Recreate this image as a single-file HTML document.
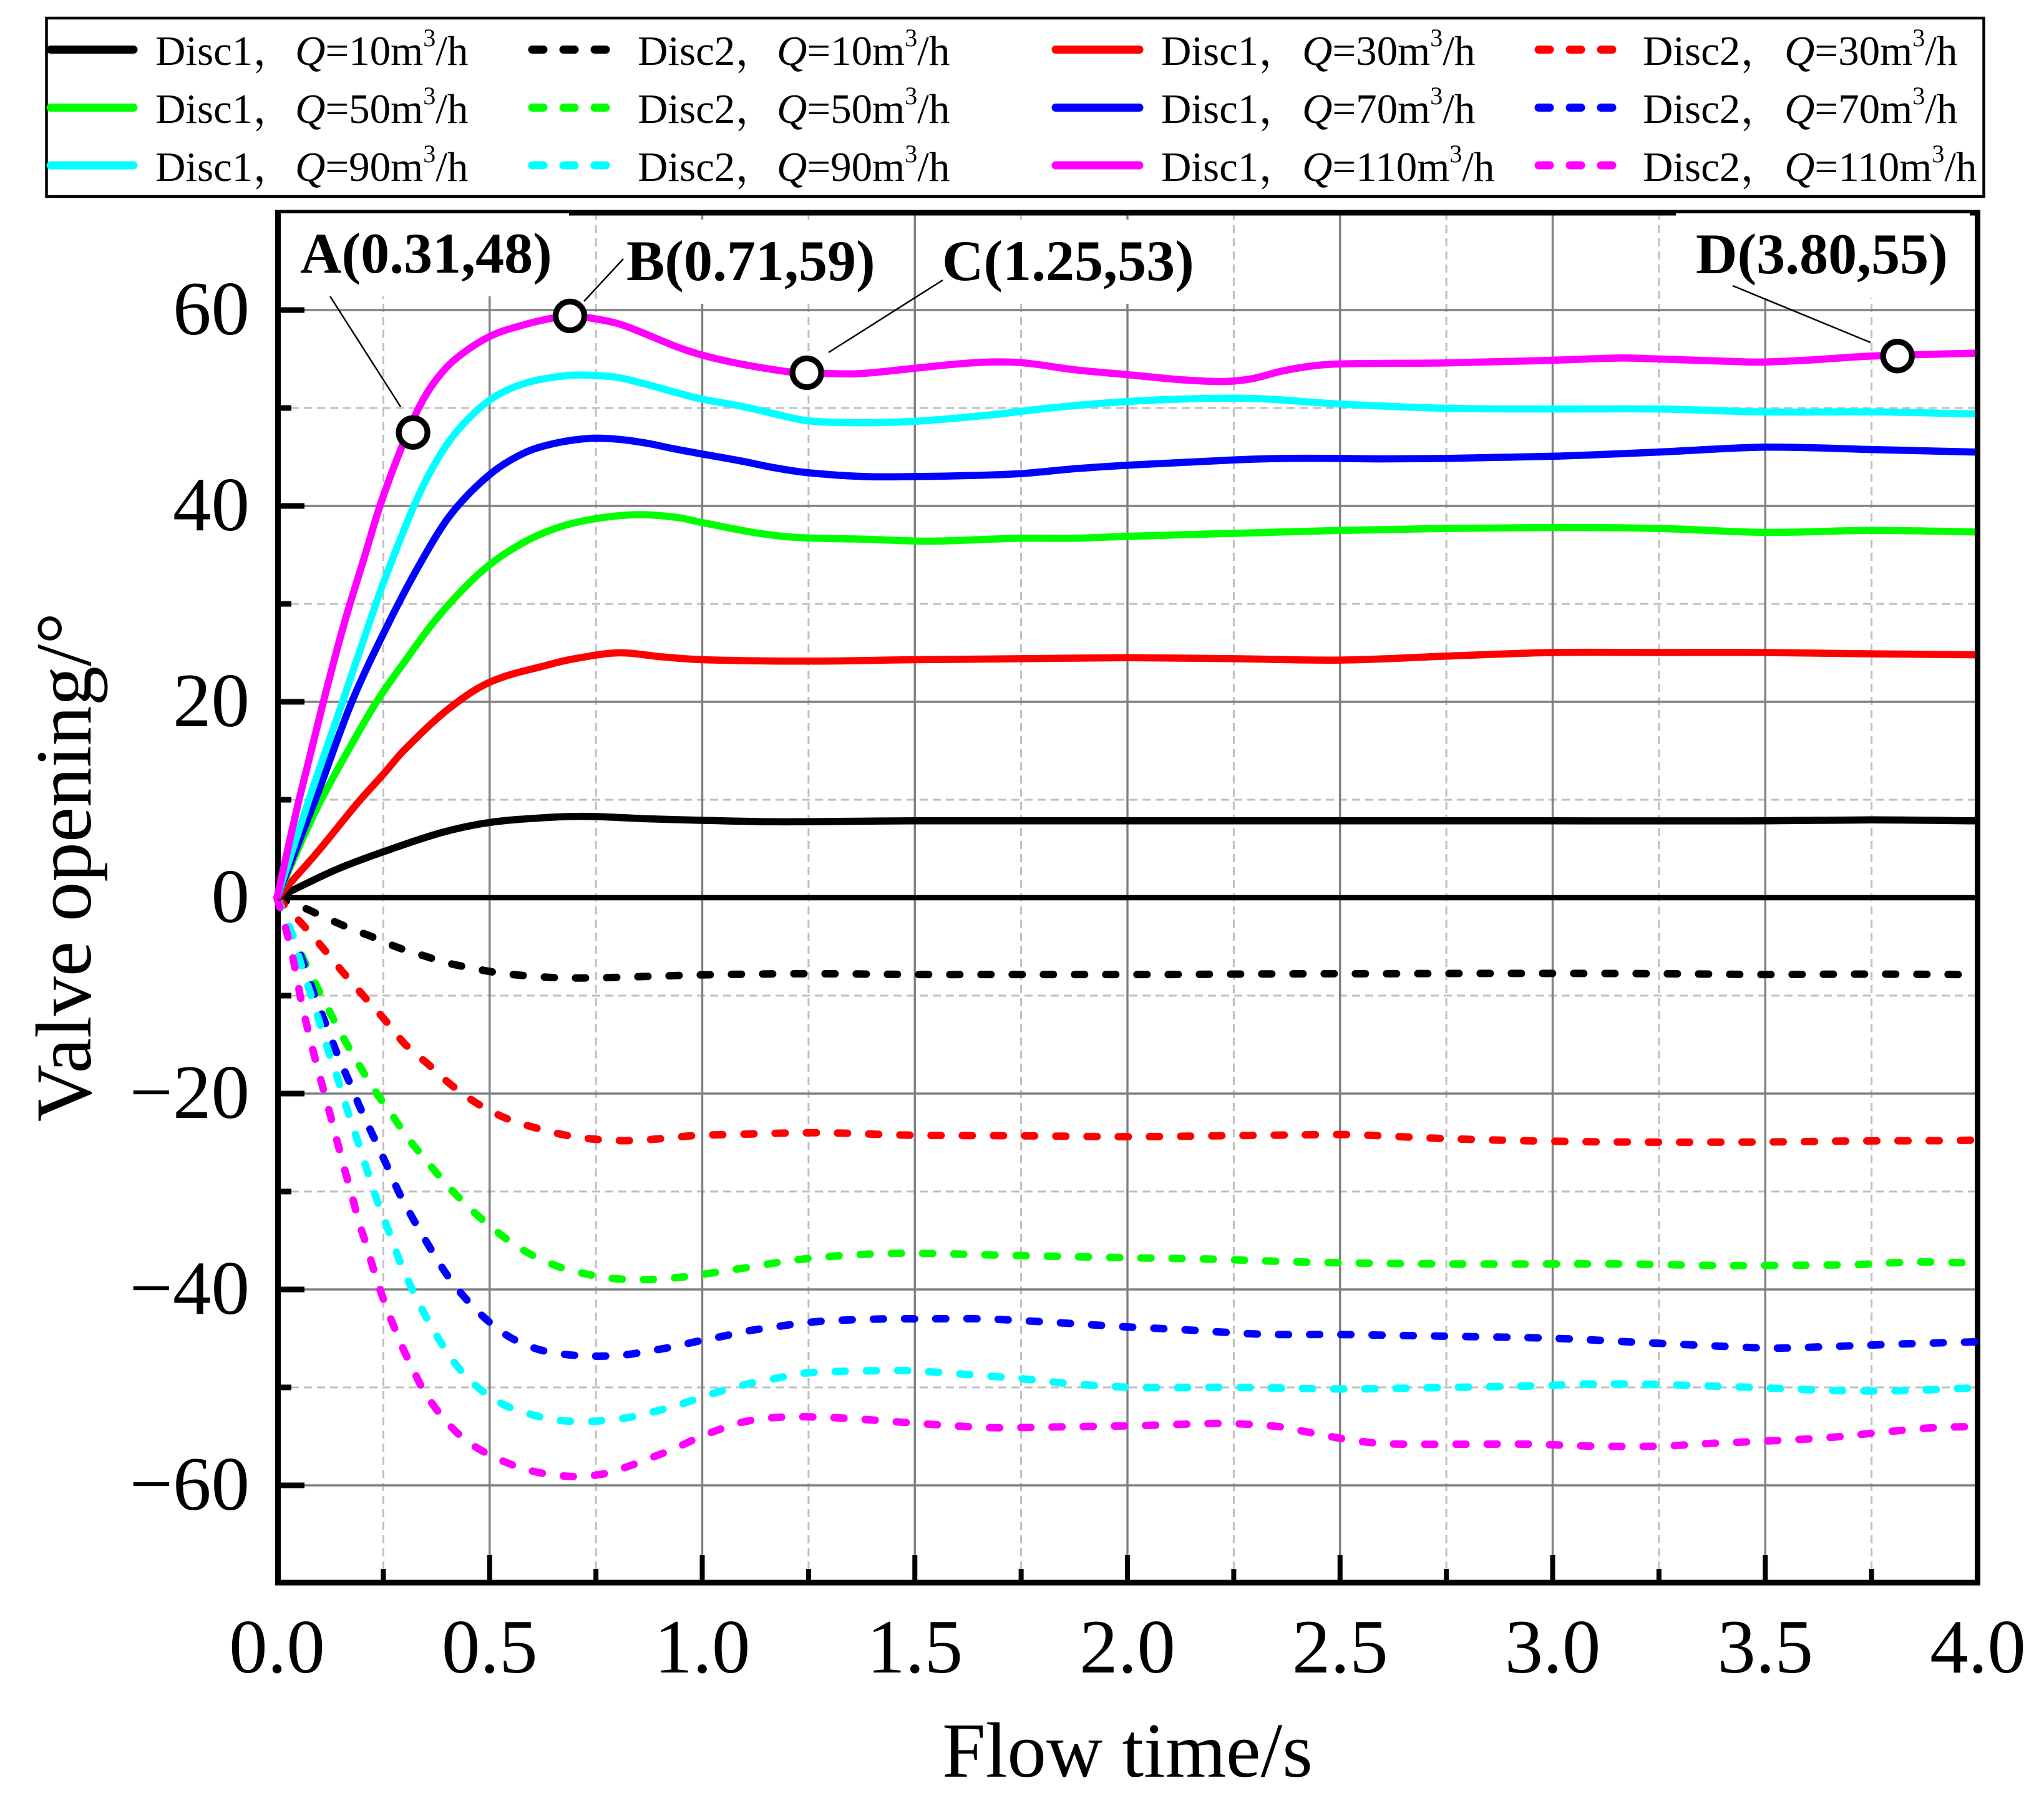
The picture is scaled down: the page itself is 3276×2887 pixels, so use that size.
<!DOCTYPE html>
<html lang="en">
<head>
<meta charset="utf-8">
<title>Valve opening vs flow time</title>
<style>
html,body{margin:0;padding:0;background:#fff;}
svg{display:block;font-family:"Liberation Serif","Noto Serif CJK SC",serif;}
.lg{font-size:67px;fill:#000;}
.q{font-style:italic;}
.sup{font-size:40px;}
.ann{font-size:92px;font-weight:bold;fill:#000;}
.tick{font-size:123px;fill:#000;}
.title{font-size:125px;fill:#000;}
</style>
</head>
<body>
<svg id="chart" xmlns="http://www.w3.org/2000/svg" width="3276" height="2887" viewBox="0 0 3276 2887">
<rect x="0" y="0" width="3276" height="2887" fill="#fff"/>
<g id="grid"></g>
<rect x="445.500" y="341" width="2724" height="2196" fill="none" stroke="#000" stroke-width="9"/>
<g id="ticks"></g>
<g fill="#fff">
<rect x="450" y="342" width="462" height="133"/>
<rect x="1004" y="352" width="398" height="135"/>
<rect x="1510" y="352" width="403" height="135"/>
<rect x="2686" y="342" width="471" height="136"/>
</g>
<g id="series"></g>
<g stroke="#000" stroke-width="2.5" fill="none">
<line x1="529" y1="475" x2="642" y2="652"/>
<line x1="999" y1="415" x2="936" y2="483"/>
<line x1="1511" y1="449" x2="1328" y2="565"/>
<line x1="2777" y1="458" x2="2998" y2="549"/>
</g>
<g id="markers"></g>
<g>
<text class="ann" x="481" y="437">A(0.31,48)</text>
<text class="ann" x="1004" y="449">B(0.71,59)</text>
<text class="ann" x="1510" y="449">C(1.25,53)</text>
<text class="ann" x="2718" y="438">D(3.80,55)</text>
</g>
<g id="ticklabels"></g>
<text class="title" x="1807" y="2848" text-anchor="middle">Flow time/s</text>
<text class="title" style="font-size:127px" transform="translate(145,1390) rotate(-90)" text-anchor="middle">Valve opening/°</text>

<g>
<rect x="74.500" y="29" width="3105" height="286" fill="#fff" stroke="#000" stroke-width="4.5"/>
<g stroke-width="13" stroke-linecap="round" fill="none">
<line x1="81" x2="214" y1="79.500" y2="79.500" stroke="#000"/>
<line x1="853" x2="971" y1="79.500" y2="79.500" stroke="#000" stroke-dasharray="18 32"/>
<line x1="1692" x2="1826" y1="79.500" y2="79.500" stroke="#f00"/>
<line x1="2466" x2="2586" y1="79.500" y2="79.500" stroke="#f00" stroke-dasharray="18 32"/>
<line x1="81" x2="214" y1="172.500" y2="172.500" stroke="#0f0"/>
<line x1="853" x2="971" y1="172.500" y2="172.500" stroke="#0f0" stroke-dasharray="18 32"/>
<line x1="1692" x2="1826" y1="172.500" y2="172.500" stroke="#00f"/>
<line x1="2466" x2="2586" y1="172.500" y2="172.500" stroke="#00f" stroke-dasharray="18 32"/>
<line x1="81" x2="214" y1="265" y2="265" stroke="#0ff"/>
<line x1="853" x2="971" y1="265" y2="265" stroke="#0ff" stroke-dasharray="18 32"/>
<line x1="1692" x2="1826" y1="265" y2="265" stroke="#f0f"/>
<line x1="2466" x2="2586" y1="265" y2="265" stroke="#f0f" stroke-dasharray="18 32"/>
</g>
<text class="lg" x="249" y="104">Disc1，<tspan class="q" x="473">Q</tspan>=10m<tspan class="sup" dy="-30">3</tspan><tspan dy="30">/h</tspan></text>
<text class="lg" x="1022" y="104">Disc2，<tspan class="q" x="1245">Q</tspan>=10m<tspan class="sup" dy="-30">3</tspan><tspan dy="30">/h</tspan></text>
<text class="lg" x="1861" y="104">Disc1，<tspan class="q" x="2087">Q</tspan>=30m<tspan class="sup" dy="-30">3</tspan><tspan dy="30">/h</tspan></text>
<text class="lg" x="2633" y="104">Disc2，<tspan class="q" x="2860">Q</tspan>=30m<tspan class="sup" dy="-30">3</tspan><tspan dy="30">/h</tspan></text>
<text class="lg" x="249" y="197">Disc1，<tspan class="q" x="473">Q</tspan>=50m<tspan class="sup" dy="-30">3</tspan><tspan dy="30">/h</tspan></text>
<text class="lg" x="1022" y="197">Disc2，<tspan class="q" x="1245">Q</tspan>=50m<tspan class="sup" dy="-30">3</tspan><tspan dy="30">/h</tspan></text>
<text class="lg" x="1861" y="197">Disc1，<tspan class="q" x="2087">Q</tspan>=70m<tspan class="sup" dy="-30">3</tspan><tspan dy="30">/h</tspan></text>
<text class="lg" x="2633" y="197">Disc2，<tspan class="q" x="2860">Q</tspan>=70m<tspan class="sup" dy="-30">3</tspan><tspan dy="30">/h</tspan></text>
<text class="lg" x="249" y="290">Disc1，<tspan class="q" x="473">Q</tspan>=90m<tspan class="sup" dy="-30">3</tspan><tspan dy="30">/h</tspan></text>
<text class="lg" x="1022" y="290">Disc2，<tspan class="q" x="1245">Q</tspan>=90m<tspan class="sup" dy="-30">3</tspan><tspan dy="30">/h</tspan></text>
<text class="lg" x="1861" y="290">Disc1，<tspan class="q" x="2087">Q</tspan>=110m<tspan class="sup" dy="-30">3</tspan><tspan dy="30">/h</tspan></text>
<text class="lg" x="2633" y="290">Disc2，<tspan class="q" x="2860">Q</tspan>=110m<tspan class="sup" dy="-30">3</tspan><tspan dy="30">/h</tspan></text>
</g>
</svg>
<script>
const xMajorTicks = [0.5, 1, 1.5, 2, 2.5, 3, 3.5];
const xMinorTicks = [0.25, 0.75, 1.25, 1.75, 2.25, 2.75, 3.25, 3.75];
const xTickLabels = ["0.0", "0.5", "1.0", "1.5", "2.0", "2.5", "3.0", "3.5", "4.0"];
const xTickLabelValues = [0, 0.5, 1, 1.5, 2, 2.5, 3, 3.5, 4];
const yMajorTicks = [60, 40, 20, -20, -40, -60];
const yMinorTicks = [50, 30, 10, -10, -30, -50];
const yTickLabels = ["60", "40", "20", "0", "−20", "−40", "−60"];
const yTickLabelValues = [60, 40, 20, 0, -20, -40, -60];

const markerTimes = [0.32, 0.689, 1.246, 3.811];
const markerValues = [47.5, 59.4, 53.6, 55.3];

const disc1Q10T = [0, 0.043, 0.1409, 0.2514, 0.3855, 0.5, 0.64, 0.735, 0.87, 1, 1.18, 1.5, 2, 2.5, 3, 3.5, 3.75, 3.993];
const disc1Q10V = [0, 0.9, 2.9, 4.71, 6.63, 7.68, 8.2, 8.3, 8.06, 7.9, 7.75, 7.85, 7.85, 7.85, 7.85, 7.85, 7.95, 7.85];
const disc1Q30T = [0, 0.092, 0.19, 0.2514, 0.2974, 0.3999, 0.5, 0.64, 0.7, 0.803, 0.904, 1, 1.25, 1.5, 1.75, 2, 2.25, 2.5, 2.75, 3, 3.25, 3.5, 3.75, 3.993];
const disc1Q30V = [0, 4.5, 9.7, 12.67, 15, 19.15, 22, 23.8, 24.4, 25, 24.6, 24.3, 24.15, 24.3, 24.4, 24.5, 24.4, 24.26, 24.66, 25.03, 25.03, 25.03, 24.9, 24.8];
const disc1Q50T = [0, 0.06, 0.104, 0.1604, 0.234, 0.3, 0.366, 0.4343, 0.5, 0.581, 0.6545, 0.735, 0.843, 0.937, 1, 1.12, 1.217, 1.385, 1.53, 1.75, 1.877, 2, 2.25, 2.5, 2.75, 3, 3.25, 3.5, 3.75, 3.993];
const disc1Q50V = [0, 6, 10, 14.5, 20, 24.1, 28, 31.36, 34, 36.3, 37.7, 38.6, 39.1, 38.85, 38.3, 37.3, 36.8, 36.6, 36.4, 36.7, 36.7, 36.9, 37.2, 37.5, 37.7, 37.8, 37.7, 37.3, 37.5, 37.35];
const disc1Q70T = [0, 0.0944, 0.176, 0.262, 0.3414, 0.41, 0.5, 0.581, 0.6545, 0.735, 0.803, 0.87, 0.937, 1, 1.09, 1.17, 1.247, 1.38, 1.503, 1.63, 1.75, 1.877, 2, 2.25, 2.37, 2.5, 2.6, 2.75, 3, 3.25, 3.5, 3.75, 3.993];
const disc1Q70V = [0, 10.5, 20, 28, 34.5, 39.2, 43.2, 45.4, 46.4, 46.9, 46.8, 46.4, 45.8, 45.3, 44.6, 43.9, 43.4, 43, 43, 43.1, 43.3, 43.8, 44.15, 44.7, 44.85, 44.85, 44.8, 44.85, 45.07, 45.5, 46, 45.76, 45.5];
const disc1Q90T = [0, 0.075, 0.154, 0.2167, 0.2514, 0.322, 0.371, 0.4246, 0.5, 0.581, 0.679, 0.735, 0.803, 0.87, 0.937, 1, 1.09, 1.17, 1.247, 1.365, 1.503, 1.68, 1.827, 2, 2.16, 2.31, 2.5, 2.75, 3, 3.25, 3.5, 3.75, 3.993];
const disc1Q90V = [0, 10, 20, 28, 32.3, 40, 44.3, 47.7, 50.8, 52.5, 53.3, 53.35, 53.1, 52.4, 51.6, 50.9, 50.2, 49.4, 48.7, 48.5, 48.65, 49.3, 50.04, 50.66, 50.95, 50.95, 50.4, 49.97, 49.9, 49.9, 49.6, 49.6, 49.4];
const disc1Q110T = [0, 0.0235, 0.0518, 0.109, 0.158, 0.205, 0.242, 0.2876, 0.332, 0.371, 0.4197, 0.5, 0.581, 0.65, 0.688, 0.735, 0.803, 0.87, 0.937, 1, 1.09, 1.208, 1.247, 1.365, 1.503, 1.601, 1.68, 1.758, 1.877, 2, 2.122, 2.22, 2.29, 2.367, 2.436, 2.5, 2.75, 3, 3.16, 3.25, 3.457, 3.5, 3.605, 3.75, 3.993];
const disc1Q110V = [0, 4.6, 10, 20, 28, 34.7, 40, 45.4, 49.9, 52.7, 55, 57.3, 58.5, 59.2, 59.4, 59.2, 58.6, 57.5, 56.3, 55.4, 54.5, 53.66, 53.6, 53.5, 54.07, 54.5, 54.7, 54.6, 53.9, 53.4, 52.9, 52.7, 52.97, 53.8, 54.3, 54.5, 54.6, 54.87, 55.1, 55, 54.7, 54.7, 54.9, 55.3, 55.6];

const disc2Q10T = [0, 0.0615, 0.122, 0.176, 0.23, 0.284, 0.341, 0.395, 0.459, 0.52, 0.58, 0.648, 0.712, 0.786, 0.853, 0.917, 0.978, 1.12, 1.267, 1.5, 1.75, 2.1, 2.25, 2.5, 2.63, 2.81, 3.03, 3.25, 3.5, 3.73, 3.95, 3.993];
const disc2Q10V = [0, -1, -2.2, -3.2, -4.1, -5.08, -5.87, -6.6, -7.2, -7.67, -7.95, -8.15, -8.2, -8.15, -8.06, -7.98, -7.9, -7.8, -7.76, -7.84, -7.84, -7.84, -7.8, -7.76, -7.76, -7.73, -7.73, -7.76, -7.84, -7.8, -7.84, -7.85];
const disc2Q30T = [0, 0.0615, 0.109, 0.156, 0.207, 0.255, 0.302, 0.358, 0.412, 0.474, 0.54, 0.612, 0.685, 0.758, 0.83, 0.904, 0.978, 1.05, 1.27, 1.49, 1.72, 2, 2.235, 2.45, 2.53, 2.75, 2.97, 3.18, 3.485, 3.71, 3.93, 3.993];
const disc2Q30V = [0, -2.8, -5.2, -7.66, -10.2, -12.55, -15, -17.1, -19.2, -21.1, -22.55, -23.55, -24.3, -24.7, -24.8, -24.6, -24.3, -24.2, -24, -24.25, -24.3, -24.4, -24.3, -24.2, -24.2, -24.6, -24.84, -24.95, -24.95, -24.84, -24.8, -24.75];
const disc2Q50T = [0, 0.0345, 0.0615, 0.094, 0.126, 0.159, 0.196, 0.23, 0.269, 0.309, 0.352, 0.397, 0.446, 0.5, 0.553, 0.609, 0.664, 0.714, 0.783, 0.857, 0.926, 0.986, 1.04, 1.1, 1.217, 1.345, 1.48, 1.7, 2, 2.19, 2.41, 2.535, 2.76, 2.95, 3.17, 3.39, 3.58, 3.72, 3.85, 3.993];
const disc2Q50V = [0, -3.6, -6.2, -9.1, -11.85, -14.55, -17.3, -19.7, -22.1, -24.6, -26.9, -29.2, -31.4, -33.5, -35.25, -36.7, -37.7, -38.3, -38.85, -39, -38.85, -38.55, -38.2, -37.8, -37, -36.5, -36.3, -36.5, -36.76, -36.9, -37.2, -37.3, -37.4, -37.4, -37.4, -37.56, -37.53, -37.45, -37.2, -37.3];
const disc2Q70T = [0, 0.0615, 0.087, 0.114, 0.141, 0.171, 0.197, 0.229, 0.261, 0.29, 0.324, 0.362, 0.398, 0.439, 0.488, 0.541, 0.599, 0.655, 0.732, 0.813, 0.873, 0.932, 0.988, 1.046, 1.112, 1.174, 1.233, 1.297, 1.437, 1.513, 1.66, 1.8, 1.99, 2.13, 2.28, 2.35, 2.5, 2.64, 2.79, 3.01, 3.23, 3.45, 3.52, 3.67, 3.82, 3.993];
const disc2Q70V = [0, -6.6, -9.8, -12.84, -15.9, -18.9, -21.6, -24.6, -27.6, -30.4, -33.1, -35.9, -38.4, -40.7, -42.9, -44.7, -45.9, -46.5, -46.8, -46.7, -46.3, -45.85, -45.3, -44.8, -44.2, -43.8, -43.45, -43.2, -43, -43, -43, -43.3, -43.8, -44.1, -44.5, -44.6, -44.6, -44.7, -44.8, -45, -45.46, -45.9, -46, -45.8, -45.57, -45.35];
const disc2Q90T = [0, 0.0345, 0.055, 0.078, 0.1, 0.122, 0.146, 0.167, 0.19, 0.213, 0.237, 0.264, 0.29, 0.32, 0.353, 0.388, 0.425, 0.474, 0.53, 0.585, 0.646, 0.712, 0.776, 0.83, 0.889, 0.944, 0.998, 1.05, 1.112, 1.17, 1.23, 1.3, 1.415, 1.49, 1.63, 1.76, 1.877, 2.02, 2.25, 2.47, 2.55, 2.755, 2.95, 3.09, 3.23, 3.45, 3.65, 3.8, 3.993];
const disc2Q90V = [0, -3.6, -6.6, -9.7, -12.76, -15.8, -18.9, -21.9, -24.9, -28, -31.1, -34.2, -37.25, -40.2, -43, -45.6, -47.9, -50.06, -51.7, -52.6, -53.25, -53.5, -53.35, -53.05, -52.45, -51.8, -51, -50.3, -49.6, -49.1, -48.6, -48.4, -48.3, -48.3, -48.7, -49.15, -49.66, -50, -50, -50.15, -50.15, -50, -49.85, -49.66, -49.7, -49.97, -50.3, -50.35, -50.05];
const disc2Q110T = [0, 0.0209, 0.0345, 0.046, 0.0555, 0.068, 0.083, 0.098, 0.114, 0.129, 0.144, 0.16, 0.176, 0.191, 0.21, 0.226, 0.243, 0.262, 0.277, 0.297, 0.319, 0.343, 0.369, 0.4, 0.444, 0.496, 0.547, 0.584, 0.636, 0.705, 0.771, 0.83, 0.885, 0.937, 0.992, 1.04, 1.08, 1.14, 1.21, 1.285, 1.356, 1.483, 1.55, 1.67, 1.745, 1.886, 2.03, 2.18, 2.25, 2.355, 2.417, 2.475, 2.53, 2.59, 2.655, 2.8, 2.95, 3.1, 3.25, 3.38, 3.49, 3.64, 3.77, 3.9, 3.993];
const disc2Q110V = [0, -3.2, -5.6, -8, -10.25, -12.65, -15.35, -17.8, -20.4, -22.8, -25.3, -27.9, -30.4, -32.9, -35.45, -37.8, -40.1, -42.4, -44, -46.1, -48.07, -50.2, -51.9, -53.6, -55.4, -56.8, -57.8, -58.35, -58.85, -59.1, -58.8, -58, -57.1, -56.2, -55.1, -54.3, -53.7, -53.2, -53, -53.05, -53.2, -53.6, -53.8, -54.1, -54.1, -54, -53.9, -53.7, -53.7, -54, -54.5, -55, -55.4, -55.7, -55.8, -55.8, -55.8, -56, -56, -55.7, -55.5, -55.15, -54.6, -54.1, -54];

const NS = "http://www.w3.org/2000/svg";
function xAxis(t) { return 444 + 681.5 * t; }
function yAxis(v) { return 1439 - 15.7 * v; }
function make(tag, parent, attrs) {
  const el = document.createElementNS(NS, tag);
  for (const k in attrs) el.setAttribute(k, attrs[k]);
  parent.appendChild(el);
  return el;
}
const gridG = document.getElementById("grid");
const ticksG = document.getElementById("ticks");
const labelsG = document.getElementById("ticklabels");
const seriesG = document.getElementById("series");
const markersG = document.getElementById("markers");

xMinorTicks.forEach(function (t) {
  const g = make("line", gridG, { x1: xAxis(t), x2: xAxis(t), y1: 2537, y2: 341, stroke: "#bfbfbf", "stroke-width": 3, "stroke-dasharray": "13 8" });
  
  
  const k = make("line", ticksG, { x1: xAxis(t), x2: xAxis(t), y1: 2537, y2: 2515, stroke: "#000", "stroke-width": 8 });
  
  
});
yMinorTicks.forEach(function (v) {
  const g = make("line", gridG, { x1: 445, x2: 3170, y1: yAxis(v), y2: yAxis(v), stroke: "#bfbfbf", "stroke-width": 3, "stroke-dasharray": "13 8" });
  
  
  const k = make("line", ticksG, { x1: 445, x2: 467, y1: yAxis(v), y2: yAxis(v), stroke: "#000", "stroke-width": 9 });
  
  
});
xMajorTicks.forEach(function (t) {
  const g = make("line", gridG, { x1: xAxis(t), x2: xAxis(t), y1: 2537, y2: 341, stroke: "#808080", "stroke-width": 3.4 });
  
  
  const k = make("line", ticksG, { x1: xAxis(t), x2: xAxis(t), y1: 2537, y2: 2493, stroke: "#000", "stroke-width": 8 });
  
  
});
yMajorTicks.forEach(function (v) {
  const g = make("line", gridG, { x1: 445, x2: 3170, y1: yAxis(v), y2: yAxis(v), stroke: "#808080", "stroke-width": 3.4 });
  
  
  const k = make("line", ticksG, { x1: 445, x2: 488, y1: yAxis(v), y2: yAxis(v), stroke: "#000", "stroke-width": 9 });
  
  
});
const zero = make("line", ticksG, { x1: 445, x2: 3170, y1: yAxis(0), y2: yAxis(0), stroke: "#000", "stroke-width": 8.5 });



xTickLabels.forEach(function (s, i) {
  const t = make("text", labelsG, { x: xAxis(xTickLabelValues[i]), y: 2681, "text-anchor": "middle", class: "tick" });
  t.textContent = s;
  
  
});
yTickLabels.forEach(function (s, i) {
  const t = make("text", labelsG, { x: 400, y: yAxis(yTickLabelValues[i]) + 39, "text-anchor": "end", class: "tick" });
  t.textContent = s;
  
  
});

function curvePath(ts, vs) {
  const n = ts.length;
  const m = [];
  for (let i = 0; i < n; i++) {
    const a = Math.max(0, i - 1), b = Math.min(n - 1, i + 1);
    m.push((vs[b] - vs[a]) / (ts[b] - ts[a]));
  }
  let d = "M" + xAxis(ts[0]).toFixed(1) + " " + yAxis(vs[0]).toFixed(1);
  for (let i = 0; i < n - 1; i++) {
    const h = (ts[i + 1] - ts[i]) / 3;
    d += "C" + xAxis(ts[i] + h).toFixed(1) + " " + yAxis(vs[i] + m[i] * h).toFixed(1) + " " +
      xAxis(ts[i + 1] - h).toFixed(1) + " " + yAxis(vs[i + 1] - m[i + 1] * h).toFixed(1) + " " +
      xAxis(ts[i + 1]).toFixed(1) + " " + yAxis(vs[i + 1]).toFixed(1);
  }
  return d;
}
function drawSeries(ts, vs, color, dashed, name) {
  const attrs = { d: curvePath(ts, vs), fill: "none", stroke: color, "stroke-width": dashed ? 12 : 11.5 };
  if (dashed) {
    attrs["stroke-dasharray"] = "16 34";
    attrs["stroke-linecap"] = "round";
  }
  const p = make("path", seriesG, attrs);
  
  
}
drawSeries(disc2Q10T, disc2Q10V, "#000", true, "disc2-q10-line");
drawSeries(disc2Q30T, disc2Q30V, "#f00", true, "disc2-q30-line");
drawSeries(disc2Q50T, disc2Q50V, "#0f0", true, "disc2-q50-line");
drawSeries(disc2Q70T, disc2Q70V, "#00f", true, "disc2-q70-line");
drawSeries(disc2Q90T, disc2Q90V, "#0ff", true, "disc2-q90-line");
drawSeries(disc2Q110T, disc2Q110V, "#f0f", true, "disc2-q110-line");
drawSeries(disc1Q10T, disc1Q10V, "#000", false, "disc1-q10-line");
drawSeries(disc1Q30T, disc1Q30V, "#f00", false, "disc1-q30-line");
drawSeries(disc1Q50T, disc1Q50V, "#0f0", false, "disc1-q50-line");
drawSeries(disc1Q70T, disc1Q70V, "#00f", false, "disc1-q70-line");
drawSeries(disc1Q90T, disc1Q90V, "#0ff", false, "disc1-q90-line");
drawSeries(disc1Q110T, disc1Q110V, "#f0f", false, "disc1-q110-line");

markerTimes.forEach(function (t, i) {
  const c = make("circle", markersG, { cx: xAxis(t), cy: yAxis(markerValues[i]), r: 23, fill: "#fff", stroke: "#000", "stroke-width": 9.3 });
  
  
});
</script>
</body>
</html>
